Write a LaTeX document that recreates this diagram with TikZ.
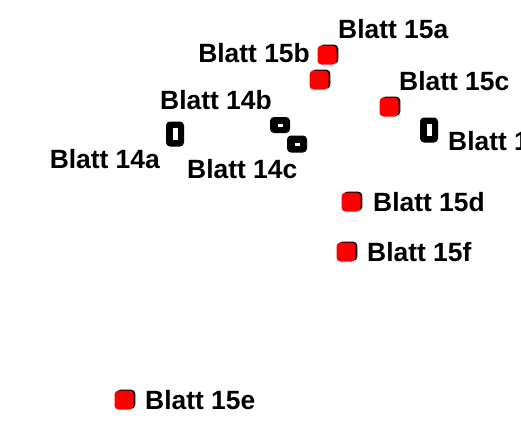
\documentclass[tikz,border=0pt]{standalone}
\usepackage{fontspec}
\setmainfont{Liberation Sans}
\usepackage{xcolor}
\usepackage{tikz}

\tikzset{
  redmark/.style={rectangle,rounded corners=4pt,fill=red,minimum size=19pt,inner sep=0pt,
    preaction={fill=black,transform canvas={shift={(1.8pt,0.8pt)}}}},
  blackmark/.style={rectangle,rounded corners=4pt,fill=black,inner sep=0pt},
  blatt/.style={inner sep=0pt,font=\bfseries\fontsize{26.4}{26.4}\selectfont}
}

\begin{document}
\begin{tikzpicture}[x=1pt,y=-1pt]
    \useasboundingbox (0,0) rectangle (521,424);
    \clip (0,0) rectangle (521,424);

    \draw (327,55) node (m15a) [redmark] {};
    \draw (319,80) node (m15b) [redmark] {};
    \draw (389,107) node (m15c) [redmark] {};
    \draw (351,202) node (m15d) [redmark] {};
    \draw (346,252) node (m15f) [redmark] {};
    \draw (124,400) node (m15e) [redmark] {};
    \draw (175,134) node (m14a) [blackmark,minimum width=18pt,minimum height=25pt] {\textcolor{white}{\rule{5pt}{12pt}}};
    \draw (280,125) node (m14b) [blackmark,minimum width=20pt,minimum height=16pt] {\textcolor{white}{\rule{5pt}{3pt}}};
    \draw (297,144) node (m14c) [blackmark,minimum width=20pt,minimum height=17pt] {\textcolor{white}{\rule{5pt}{3pt}}};
    \draw (429,130) node (m16) [blackmark,minimum width=18pt,minimum height=25pt] {\textcolor{white}{\rule{5pt}{12pt}}};

    \draw (338,29) node (l15a) [blatt,anchor=west] {Blatt 15a};
    \draw (310,53) node (l15b) [blatt,anchor=east] {Blatt 15b};
    \draw (399,81) node (l15c) [blatt,anchor=west] {Blatt 15c};
    \draw (373,202) node (l15d) [blatt,anchor=west] {Blatt 15d};
    \draw (367,252) node (l15f) [blatt,anchor=west] {Blatt 15f};
    \draw (145,400) node (l15e) [blatt,anchor=west] {Blatt 15e};
    \draw (160,100) node (l14b) [blatt,anchor=west] {Blatt 14b};
    \draw (160,159) node (l14a) [blatt,anchor=east] {Blatt 14a};
    \draw (187,169) node (l14c) [blatt,anchor=west] {Blatt 14c};
    \draw (448,141) node (l16) [blatt,anchor=west] {Blatt 1};
\end{tikzpicture}
\end{document}
